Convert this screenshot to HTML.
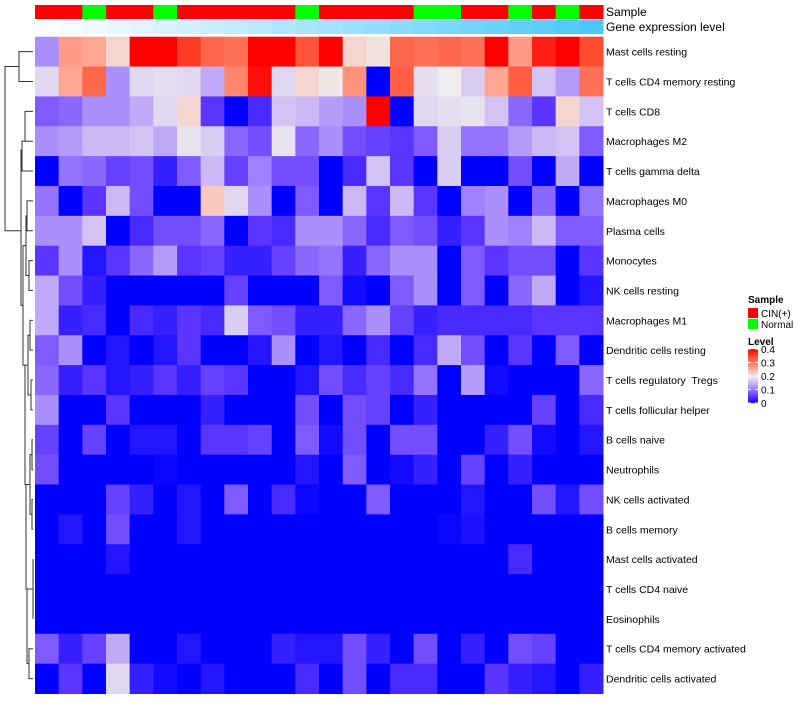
<!DOCTYPE html>
<html><head><meta charset="utf-8"><style>
body{margin:0;background:#fff;font-family:"Liberation Sans",sans-serif}
svg text{font-family:"Liberation Sans",sans-serif;white-space:pre}
</style></head><body>
<svg id="chart" width="800" height="700"></svg>
<script>
const rowLabels=["Mast cells resting","T cells CD4 memory resting","T cells CD8","Macrophages M2","T cells gamma delta","Macrophages M0","Plasma cells","Monocytes","NK cells resting","Macrophages M1","Dendritic cells resting","T cells regulatory  Tregs","T cells follicular helper","B cells naive","Neutrophils","NK cells activated","B cells memory","Mast cells activated","T cells CD4 naive","Eosinophils","T cells CD4 memory activated","Dendritic cells activated"];
const sampleGroups=["CIN","CIN","Normal","CIN","CIN","Normal","CIN","CIN","CIN","CIN","CIN","Normal","CIN","CIN","CIN","CIN","Normal","Normal","CIN","CIN","Normal","CIN","Normal","CIN"];
const geneLevel=[0,1,2,3,4,5,6,7,8,9,10,11,12,13,14,15,16,17,18,19,20,21,22,23];
const values=[
[0.12,0.27,0.26,0.22,0.4,0.4,0.36,0.32,0.31,0.4,0.4,0.34,0.4,0.22,0.21,0.32,0.31,0.32,0.31,0.4,0.27,0.38,0.4,0.35],
[0.18,0.26,0.32,0.12,0.18,0.185,0.18,0.14,0.29,0.39,0.18,0.22,0.205,0.28,0,0.33,0.185,0.2,0.17,0.26,0.33,0.16,0.13,0.31],
[0.08,0.09,0.12,0.12,0.14,0.18,0.22,0.05,0,0.04,0.16,0.15,0.13,0.12,0.4,0,0.18,0.185,0.19,0.16,0.09,0.05,0.22,0.16],
[0.12,0.13,0.15,0.15,0.16,0.14,0.19,0.17,0.09,0.07,0.19,0.09,0.12,0.07,0.06,0.05,0.08,0.17,0.1,0.1,0.13,0.15,0.16,0.08],
[0,0.1,0.09,0.06,0.07,0.03,0.08,0.15,0.06,0.11,0.07,0.07,0,0.04,0.16,0.05,0,0.17,0,0,0.07,0,0.14,0],
[0.1,0,0.05,0.15,0.07,0,0,0.23,0.18,0.12,0,0.08,0,0.15,0.05,0.15,0.05,0,0.11,0.12,0,0.09,0,0.1],
[0.12,0.12,0.16,0,0.04,0.07,0.07,0.09,0,0.05,0.04,0.12,0.12,0.09,0.04,0.08,0.07,0.03,0.05,0.12,0.11,0.15,0.08,0.08],
[0.05,0.12,0.02,0.05,0.09,0.13,0.05,0.06,0.03,0.03,0.06,0.09,0.1,0.03,0.09,0.12,0.12,0,0.08,0.05,0.07,0.07,0,0.05],
[0.14,0.07,0.03,0,0,0,0,0,0.06,0,0,0,0.08,0.01,0,0.08,0.12,0,0.08,0,0.09,0.14,0,0.02],
[0.14,0.03,0.04,0,0.04,0.03,0.05,0.04,0.17,0.08,0.07,0.03,0.03,0.09,0.12,0.06,0.03,0.04,0.04,0.04,0.04,0.05,0.05,0.05],
[0.08,0.12,0,0.02,0,0.02,0.05,0,0,0.02,0.12,0,0.02,0,0.04,0,0.04,0.14,0.07,0,0.05,0,0.08,0],
[0.09,0.03,0.05,0.02,0.03,0.05,0.03,0.06,0.05,0,0,0.02,0.07,0.04,0.06,0.04,0.1,0,0.13,0.01,0,0,0,0.09],
[0.12,0,0,0.05,0,0,0,0.03,0,0,0,0.07,0,0.07,0.06,0,0.03,0,0,0,0,0.06,0,0.04],
[0.06,0,0.06,0,0.02,0.02,0,0.05,0.05,0.06,0,0.08,0.01,0.07,0,0.07,0.07,0,0,0.03,0.07,0.01,0,0.02],
[0.07,0,0,0,0,0.005,0,0,0,0,0,0.02,0,0.08,0,0.01,0.03,0,0.06,0,0.03,0,0,0],
[0,0,0,0.06,0.03,0,0.02,0,0.08,0,0.04,0.005,0,0,0.08,0,0,0,0.02,0,0,0.07,0.02,0.07],
[0,0.02,0,0.07,0,0,0.02,0,0,0,0,0,0,0,0,0,0,0.005,0.015,0,0,0,0,0],
[0,0,0,0.02,0,0,0,0,0,0,0,0,0,0,0,0,0,0,0,0,0.04,0,0,0],
[0,0,0,0,0,0,0,0,0,0,0,0,0,0,0,0,0,0,0,0,0,0,0,0],
[0,0,0,0,0,0,0,0,0,0,0,0,0,0,0,0,0,0,0,0,0,0,0,0],
[0.08,0.03,0.06,0.14,0,0,0.02,0,0,0,0.03,0.02,0.02,0.07,0.03,0,0.07,0,0.03,0,0.07,0.06,0,0],
[0,0.05,0,0.18,0.03,0.01,0,0.02,0,0,0,0.04,0,0.07,0,0.04,0.04,0,0,0.05,0.03,0.02,0,0.03]];
const legendTicks=[0,0.1,0.2,0.3,0.4];

const NS="http://www.w3.org/2000/svg";
const svg=document.getElementById('chart');
function mk(tag,attrs,parent){const e=document.createElementNS(NS,tag);for(const k in attrs)e.setAttribute(k,attrs[k]);(parent||svg).appendChild(e);return e;}
const X0=35,X1=603,Y0=36.7,Y1=693.5;
const cw=(X1-X0)/sampleGroups.length, rh=(Y1-Y0)/rowLabels.length;
const xPos=i=>X0+i*cw, yPos=r=>Y0+r*rh;
const stops=[[0,[0,0,255]],[0.05,[90,53,255]],[0.1,[150,115,255]],[0.15,[203,184,245]],[0.2,[238,238,238]],[0.25,[255,176,160]],[0.3,[255,123,95]],[0.35,[255,74,48]],[0.4,[255,0,0]]];
function col(v){v=Math.max(0,Math.min(0.4,v));for(let i=1;i<stops.length;i++){if(v<=stops[i][0]){const a=stops[i-1],b=stops[i];const t=(v-a[0])/(b[0]-a[0]);const c=a[1].map((x,k)=>Math.round(x+(b[1][k]-x)*t));return `rgb(${c})`;}}return 'rgb(255,0,0)';}
sampleGroups.forEach((g,i)=>{
 const r=mk('rect',{x:xPos(i),y:5,width:cw+0.5,height:14,fill:g==='CIN'?'#ff0000':'#00ff00'});
 
 
});
const gmax=Math.max(...geneLevel);
geneLevel.forEach((g,i)=>{
 const t=g/gmax;
 const c=[255+(76-255)*t,255+(200-255)*t,255+(246-255)*t].map(Math.round);
 const r=mk('rect',{x:xPos(i),y:20,width:cw+0.5,height:14,fill:`rgb(${c})`});
 
 
});
let t1=mk('text',{x:606,y:16,'font-size':12,fill:'#000'});t1.textContent='Sample';

let t2=mk('text',{x:606,y:31,'font-size':12,fill:'#000'});t2.textContent='Gene expression level';

values.forEach((row,r)=>row.forEach((v,c)=>{
 const e=mk('rect',{x:xPos(c),y:yPos(r),width:cw+0.5,height:rh+0.5,fill:col(v)});
 
 
}));
rowLabels.forEach((l,r)=>{
 const e=mk('text',{x:606,y:yPos(r)+rh/2+4,'font-size':10.5,fill:'#000'});e.textContent=l;
 
 
});
const dg=mk('g',{stroke:'#333','stroke-width':1,fill:'none'});

const cy=r=>yPos(r)+rh/2;
function link(y1,y2,x1a,x1b,xm){mk('path',{d:`M${x1a},${y1}H${xm}V${y2}H${x1b}`},dg);}
link(cy(0),cy(1),33,33,19);
link(cy(2),cy(3),33,33,25);
link(cy(3.5)-15,cy(4),25,33,22);
link(cy(5),cy(6),33,33,27);
link(cy(7),cy(8),33,33,29);
link(cy(9),cy(10),33,33,30);
link(cy(11),cy(12),33,33,31);
link(cy(13),cy(14),33,33,32);
link(cy(15),cy(16),33,33,32);
link(cy(17),cy(19),33,33,33);
link(cy(20),cy(21),33,33,29);
link(cy(5.5),cy(7.5),27,29,26);
link(cy(9.5),cy(11.5),30,31,28);
link(cy(13.5),cy(15.5),32,32,30);
link(cy(18),cy(20.5),33,29,27);
link(cy(14.5),cy(18),30,27,26);
link(cy(10.5),cy(14.5),28,26,25);
link(cy(6.5),cy(10.5),26,25,23);
link(cy(3.3),cy(8.5),22,23,21);
link(cy(0.5),cy(6),19,21,5);
let lt=mk('text',{x:748,y:303,'font-size':10,'font-weight':'bold',fill:'#000'});lt.textContent='Sample';

[['CIN(+)','#ff0000',308],['Normal','#00ff00',319]].forEach(([n,c,y])=>{
 const r=mk('rect',{x:748,y:y,width:10,height:10,fill:c});
 
 const t=mk('text',{x:761,y:y+9,'font-size':10,fill:'#000'});t.textContent=n;
 
});
let lv=mk('text',{x:748,y:345,'font-size':10,'font-weight':'bold',fill:'#000'});lv.textContent='Level';

const lgTop=349,lgBot=403;
for(let i=0;i<54;i++){const v=0.4*(1-i/54);mk('rect',{x:748,y:lgTop+i,width:10,height:1.2,fill:col(v)});}
legendTicks.forEach(v=>{
 const y=lgBot-(v/0.4)*(lgBot-lgTop);
 mk('line',{x1:748,x2:751,y1:y,y2:y,stroke:'#fff'});
 mk('line',{x1:755,x2:758,y1:y,y2:y,stroke:'#fff'});
 const t=mk('text',{x:761,y:y+4,'font-size':10,fill:'#000'});t.textContent=String(v);
 
});
</script>
</body></html>
